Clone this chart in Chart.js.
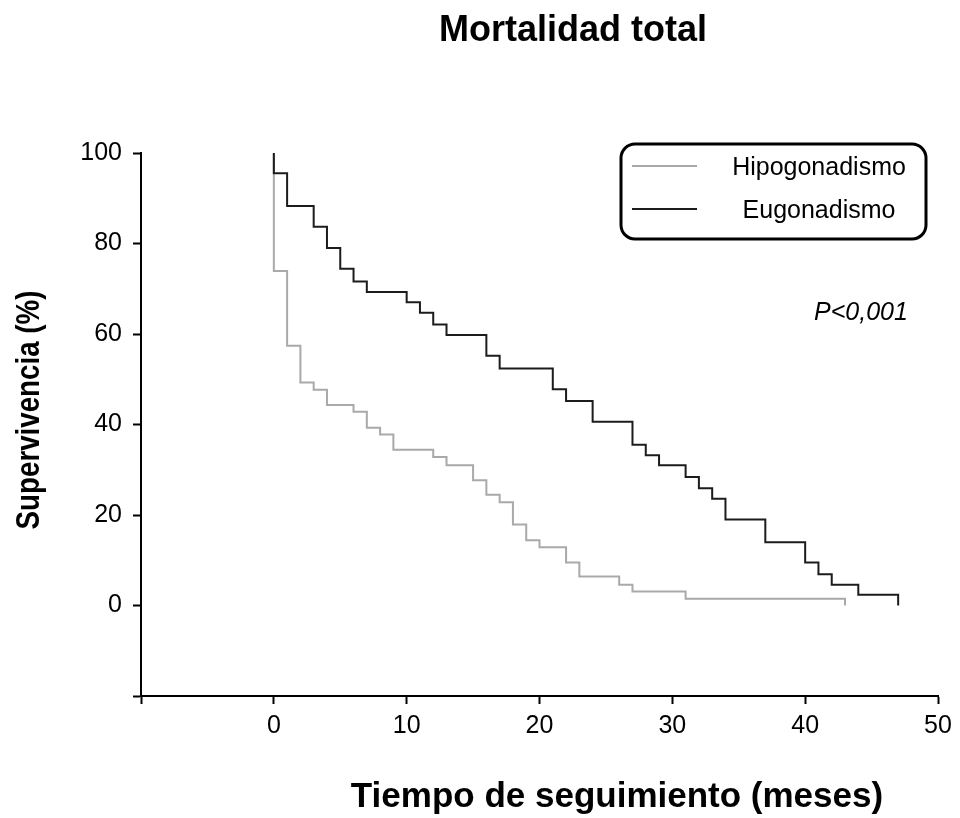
<!DOCTYPE html>
<html>
<head>
<meta charset="utf-8">
<title>Mortalidad total</title>
<script src="https://cdn.jsdelivr.net/npm/chart.js@4.4.1/dist/chart.umd.min.js"></script>
<style>
  html, body { margin: 0; padding: 0; background: #fff; }
  #chart { display: block; }
</style>
</head>
<body>
<canvas id="chart" width="960" height="818"></canvas>
<script>
// curvas de Kaplan-Meier: meses en que cae la curva y supervivencia (%) tras la caída
const euTimes = [0, 0, 1, 3, 4, 5, 6, 7, 10, 11, 12, 13, 16, 17, 21, 22, 24, 27, 28, 29, 31, 32, 33, 34, 37, 40, 41, 42, 44, 47];
const euSurv  = [100, 95.5, 88.3, 83.7, 79.0, 74.4, 71.6, 69.3, 67.0, 64.7, 62.1, 59.8, 55.2, 52.4, 47.8, 45.2, 40.6, 35.5, 33.2, 31.0, 28.4, 25.9, 23.6, 19.0, 14.0, 9.5, 6.9, 4.6, 2.4, 0];

const hipoTimes = [0, 0, 1, 2, 3, 4, 6, 7, 8, 9, 12, 13, 15, 16, 17, 18, 19, 20, 22, 23, 26, 27, 31, 43];
const hipoSurv  = [100, 73.9, 57.4, 49.3, 47.7, 44.3, 42.8, 39.3, 37.8, 34.4, 32.8, 31.0, 27.7, 24.5, 22.8, 17.9, 14.4, 12.9, 9.5, 6.4, 4.6, 3.1, 1.5, 0];

const seriesNames = ['Hipogonadismo', 'Eugonadismo'];
const xTicks = [-10, 0, 10, 20, 30, 40, 50];
const yTicks = [-20, 0, 20, 40, 60, 80, 100];

const titleText = 'Mortalidad total';
const xTitle = 'Tiempo de seguimiento (meses)';
const yTitle = 'Supervivencia (%)';
const pText = 'P<0,001';

const FONT = '"Liberation Sans", Arial, sans-serif';
const GRAY = '#a9a9a9';
const DARK = '#1c1c1c';

function toPoints(ts, ss) {
  return ts.map((t, i) => ({ x: t, y: ss[i] }));
}

// textos y leyenda dibujados a mano sobre el canvas
const decor = {
  id: 'decor',
  afterDraw(chart) {
    const ctx = chart.ctx;
    ctx.save();
    ctx.fillStyle = '#000';
    ctx.textAlign = 'center';
    ctx.textBaseline = 'middle';

    ctx.font = 'bold 36px ' + FONT;
    ctx.fillText(titleText, 573, 31);

    ctx.font = 'bold 35px ' + FONT;
    ctx.fillText(xTitle, 617, 797);

    // título del eje Y, algo estrechado
    ctx.save();
    ctx.font = 'bold 33px ' + FONT;
    ctx.translate(30, 410);
    ctx.rotate(-Math.PI / 2);
    ctx.scale(0.84, 1);
    ctx.fillText(yTitle, 0, 0);
    ctx.restore();

    // leyenda con borde redondeado
    ctx.lineWidth = 3;
    ctx.strokeStyle = '#000';
    ctx.beginPath();
    ctx.roundRect(621, 144, 305, 95, 14);
    ctx.stroke();

    const rows = [[seriesNames[0], GRAY, 166, 168], [seriesNames[1], DARK, 209, 211]];
    ctx.font = '25px ' + FONT;
    rows.forEach(([label, col, ly, ty]) => {
      ctx.strokeStyle = col;
      ctx.lineWidth = 2;
      ctx.beginPath();
      ctx.moveTo(632, ly);
      ctx.lineTo(697, ly);
      ctx.stroke();
      ctx.fillText(label, 819, ty);
    });

    ctx.font = 'italic 25px ' + FONT;
    ctx.fillText(pText, 861, 313);
    ctx.restore();
  }
};

new Chart(document.getElementById('chart'), {
  type: 'line',
  data: {
    datasets: [
      {
        label: seriesNames[1],
        data: toPoints(euTimes, euSurv),
        borderColor: DARK,
        borderWidth: 2,
        stepped: true,
        pointRadius: 0,
        fill: false,
        clip: false
      },
      {
        label: seriesNames[0],
        data: toPoints(hipoTimes, hipoSurv),
        borderColor: GRAY,
        borderWidth: 2,
        stepped: true,
        pointRadius: 0,
        fill: false,
        clip: false
      }
    ]
  },
  options: {
    responsive: false,
    animation: false,
    layout: { padding: { top: 153, right: 22, bottom: 0, left: 0 } },
    plugins: {
      legend: { display: false },
      title: { display: false },
      tooltip: { enabled: false }
    },
    scales: {
      x: {
        type: 'linear',
        min: xTicks[0],
        max: xTicks[xTicks.length - 1],
        afterFit: s => { s.height = 122; },
        afterBuildTicks: s => { s.ticks = xTicks.map(v => ({ value: v })); },
        ticks: {
          callback: v => (v < 0 ? '' : v),
          color: '#000',
          font: { family: FONT, size: 25 },
          padding: 7,
          maxRotation: 0
        },
        grid: { drawOnChartArea: false, tickLength: 8, color: '#000', tickWidth: 2 },
        border: { color: '#000', width: 2 }
      },
      y: {
        min: yTicks[0],
        max: yTicks[yTicks.length - 1],
        afterFit: s => { s.width = 141; },
        afterBuildTicks: s => { s.ticks = yTicks.map(v => ({ value: v })); },
        ticks: {
          callback: v => (v < 0 ? '' : v),
          color: '#000',
          font: { family: FONT, size: 25 },
          padding: 11
        },
        grid: { drawOnChartArea: false, tickLength: 8, color: '#000', tickWidth: 2 },
        border: { color: '#000', width: 2 }
      }
    }
  },
  plugins: [decor]
});
</script>
</body>
</html>
